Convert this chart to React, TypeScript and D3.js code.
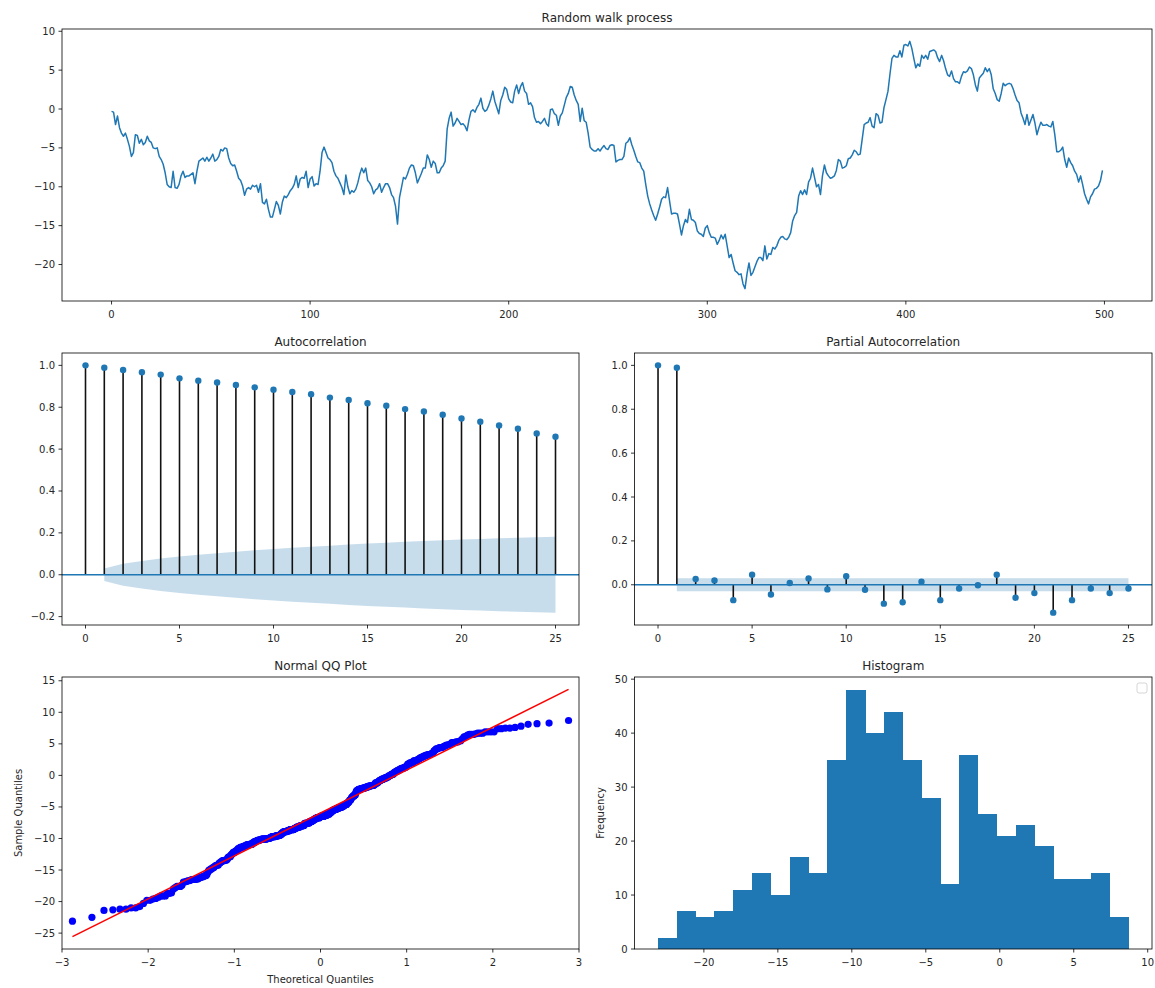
import React from "react";
import * as d3 from "d3";

// ---------------- DATA ----------------
const walk: number[] = [
  -0.3, -0.4, -2.0, -0.9, -2.4, -3.1, -3.5, -3.1, -3.9, -4.8,
  -6.1, -5.6, -3.3, -3.4, -4.4, -3.9, -4.6, -4.3, -3.5, -4.1,
  -4.3, -5.0, -5.1, -5.0, -6.1, -6.5, -7.1, -8.2, -9.7, -10.0,
  -10.1, -8.0, -10.1, -10.2, -9.7, -8.6, -8.0, -8.8, -8.6, -8.6,
  -8.4, -8.2, -9.6, -8.0, -6.7, -6.5, -6.3, -6.7, -6.2, -6.7,
  -6.3, -5.8, -6.7, -6.5, -6.1, -5.2, -5.4, -5.0, -5.1, -6.3,
  -7.0, -7.3, -7.2, -8.0, -8.9, -9.2, -9.9, -11.1, -10.3, -10.1,
  -10.3, -9.8, -10.0, -9.8, -10.7, -9.6, -12.0, -12.2, -11.6, -12.9,
  -13.9, -13.9, -12.9, -11.9, -12.4, -13.5, -12.0, -11.2, -11.4, -11.0,
  -10.5, -10.2, -9.7, -8.6, -10.1,
  -9.0, -8.8, -8.9, -8.0, -10.1, -9.0, -8.7, -9.9, -9.6, -9.7,
  -8.0, -5.6, -4.9, -5.6, -6.3, -6.5, -6.9, -8.0, -8.6, -8.9,
  -9.5, -10.1, -11.0, -8.5, -10.0, -10.9, -10.5, -10.7, -10.3, -9.5,
  -8.4, -7.6, -8.2, -7.6, -9.2, -9.5, -10.0, -10.9, -10.4, -10.2,
  -9.6, -10.7, -10.1, -9.6, -9.6, -10.1, -11.0, -11.4, -12.5, -14.8,
  -11.4, -10.1, -8.8, -9.0, -8.4, -7.6, -7.2, -7.3, -8.2, -9.5,
  -8.9, -8.3, -7.6, -7.6, -5.9, -6.5, -7.5, -6.7, -7.0, -8.2,
  -8.2, -7.6, -7.3, -6.7, -2.6, -1.2, -0.4, -2.2, -1.8, -1.2,
  -1.6, -2.0, -1.9, -2.2, -2.8, -1.4, -0.3, -0.1, -0.4, 0.2,
  0.6, 1.4, 0.1, -0.3, -0.1, 0.5, 1.3, 2.3, 1.0, 0.2,
  -0.6, 1.1,
  1.8, 2.8, 2.5, 1.3, 0.9, 0.8, 2.3, 3.1, 2.0, 2.9,
  3.4, 2.3, 2.0, 0.6, 0.8, 0.3, -1.1, -1.7, -1.6, -1.9,
  -1.6, -1.2, -1.9, -2.2, -0.1, 0.0, -0.6, -0.8, -2.1, -0.9,
  -0.5, 0.5, 1.5, 2.0, 2.9, 2.8, 1.8, 1.1, 0.6, -1.6,
  0.1, -1.5, -1.7, -3.1, -4.9, -5.2, -5.4, -5.4, -5.1, -5.4,
  -5.0, -4.7, -5.1, -5.2, -4.7, -4.6, -4.7, -6.8, -6.6, -6.5,
  -6.5, -6.1, -4.4, -4.2, -3.7, -4.6, -5.3, -6.1, -6.8, -6.9,
  -7.6, -8.0, -9.7, -11.2, -12.2, -13.0, -13.7, -14.3, -13.5, -12.6,
  -11.6, -11.3, -11.4, -10.1, -11.8, -13.5, -13.4, -13.4, -13.5,
  -14.8, -16.2, -15.0, -14.2, -14.6, -12.9, -14.2, -14.3, -14.6, -15.7,
  -16.0, -16.1, -16.4, -15.3, -15.0, -15.9,
  -16.5, -16.5, -16.6, -17.4, -16.9, -16.2, -16.7, -16.1, -17.6, -19.1,
  -18.7, -19.8, -20.8, -21.0, -21.3, -21.2, -22.5, -23.1, -21.2, -19.8,
  -21.4, -21.0, -20.3, -19.6, -19.1, -19.1, -19.5, -17.6, -19.3, -18.6,
  -18.7, -17.8, -18.0, -17.6, -16.9, -16.5, -16.4, -16.7, -16.8, -16.5,
  -15.9, -14.4, -13.7, -13.3, -11.2, -10.5, -11.0, -10.4, -11.0, -9.4,
  -8.9, -7.6, -8.8, -10.0, -9.7, -11.0, -8.6, -7.2, -8.2, -8.6,
  -8.9, -8.8, -8.6, -7.9, -6.5, -6.7, -7.6, -7.5, -7.3, -6.4,
  -6.3, -5.9, -5.3, -5.5, -5.9, -5.8, -3.9, -2.0, -1.8, -1.7,
  -1.1, -2.2, -2.4, -0.6, -0.8, -1.8, -1.7, 0.2, 1.2, 2.3,
  4.5, 6.5,
  6.9, 6.7, 6.7, 7.5, 6.7, 8.2, 8.3, 8.1, 8.7,
  7.8, 6.5, 5.3, 5.8, 5.5, 6.9, 6.5, 6.9, 6.4, 7.4,
  7.5, 7.6, 7.4, 6.6, 6.1, 6.9, 6.2, 5.2, 4.4, 4.2,
  4.9, 3.9, 3.5, 3.5, 3.3, 4.2, 4.8, 4.7, 4.9, 5.4,
  5.2, 4.4, 3.1, 2.3, 4.0, 4.3, 4.6, 5.3, 4.8, 5.2,
  4.4, 2.6, 2.0, 1.2, 1.0, 2.0, 3.3, 3.0, 3.2, 3.3,
  3.2, 2.6, 1.8, 1.1, 0.8, -0.5, -1.2, -2.0, -0.7, -2.1,
  -1.4, -0.7, -1.8, -3.3, -2.4, -1.7, -2.1, -2.1, -2.0, -2.2,
  -2.3, -1.6, -3.3, -5.5, -5.5, -5.3, -4.9, -6.5, -7.5, -6.3,
  -6.9, -7.3, -8.0, -8.4, -9.4, -8.6, -9.7, -10.9, -11.6, -12.2,
  -11.3, -10.9, -10.3, -10.2, -9.9, -9.2, -7.9,
];

const lags: number[] = [0, 1, 2, 3, 4, 5, 6, 7, 8, 9, 10, 11, 12, 13, 14, 15, 16, 17, 18, 19, 20, 21, 22, 23, 24, 25];

const acfValues: number[] = [
  1.0, 0.989, 0.978, 0.967, 0.956, 0.938, 0.927, 0.918, 0.906, 0.895,
  0.884, 0.873, 0.862, 0.846, 0.835, 0.819, 0.807, 0.791, 0.78, 0.764,
  0.746, 0.731, 0.713, 0.697, 0.675, 0.659,
];

// half-width of the ACF confidence band, lags 1..25
const acfBand: number[] = [
  0.030, 0.052, 0.066, 0.078, 0.087, 0.095, 0.103, 0.110, 0.117, 0.123,
  0.129, 0.134, 0.139, 0.144, 0.149, 0.153, 0.157, 0.161, 0.165, 0.168,
  0.171, 0.174, 0.177, 0.179, 0.181,
];

const pacfValues: number[] = [
  1.0, 0.989, 0.026, 0.02, -0.07, 0.046, -0.044, 0.008, 0.029, -0.021,
  0.039, -0.023, -0.086, -0.08, 0.014, -0.07, -0.017, -0.002, 0.046, -0.059,
  -0.038, -0.127, -0.07, -0.017, -0.038, -0.017,
];
const pacfBandHalf = 0.03;

const histCounts: number[] = [
  2, 7, 6, 7, 11, 14, 10, 17, 14, 35, 48, 40, 44, 35, 28, 12, 36, 25, 21, 23, 19, 13, 13, 14, 6,
];

const walkXTicks = [0, 100, 200, 300, 400, 500];
const walkYTicks = [-20, -15, -10, -5, 0, 5, 10];
const acfXTicks = [0, 5, 10, 15, 20, 25];
const acfYTicks = [-0.2, 0.0, 0.2, 0.4, 0.6, 0.8, 1.0];
const qqXTicks = [-3, -2, -1, 0, 1, 2, 3];
const qqYTicks = [-25, -20, -15, -10, -5, 0, 5, 10, 15];
const histXTicks = [-20, -15, -10, -5, 0, 5, 10];
const histYTicks = [0, 10, 20, 30, 40, 50];

// ---------------- helpers ----------------
const C0 = "#1f77b4";
const FONT = "DejaVu Sans, sans-serif";
const TXT = "#262626";

function pad(lo: number, hi: number, f = 0.05): [number, number] {
  const r = hi - lo;
  return [lo - r * f, hi + r * f];
}

// inverse standard normal CDF (Acklam)
function qnorm(p: number): number {
  const a = [-3.969683028665376e1, 2.209460984245205e2, -2.759285104469687e2, 1.38357751867269e2, -3.066479806614716e1, 2.506628277459239];
  const b = [-5.447609879822406e1, 1.615858368580409e2, -1.556989798598866e2, 6.680131188771972e1, -1.328068155288572e1];
  const c = [-7.784894002430293e-3, -3.223964580411365e-1, -2.400758277161838, -2.549732539343734, 4.374664141464968, 2.938163982698783];
  const d = [7.784695709041462e-3, 3.224671290700398e-1, 2.445134137142996, 3.754408661907416];
  const pl = 0.02425;
  if (p < pl) {
    const q = Math.sqrt(-2 * Math.log(p));
    return (((((c[0] * q + c[1]) * q + c[2]) * q + c[3]) * q + c[4]) * q + c[5]) / ((((d[0] * q + d[1]) * q + d[2]) * q + d[3]) * q + 1);
  }
  if (p <= 1 - pl) {
    const q = p - 0.5;
    const r = q * q;
    return ((((((a[0] * r + a[1]) * r + a[2]) * r + a[3]) * r + a[4]) * r + a[5]) * q) / (((((b[0] * r + b[1]) * r + b[2]) * r + b[3]) * r + b[4]) * r + 1);
  }
  const q = Math.sqrt(-2 * Math.log(1 - p));
  return -(((((c[0] * q + c[1]) * q + c[2]) * q + c[3]) * q + c[4]) * q + c[5]) / ((((d[0] * q + d[1]) * q + d[2]) * q + d[3]) * q + 1);
}

type Box = { l: number; r: number; t: number; b: number };

function Frame({ box, x, y, xt, yt, xf, yf, title }: any) {
  return (
    <g>
      <rect x={box.l} y={box.t} width={box.r - box.l} height={box.b - box.t} fill="none" stroke="#000" strokeWidth={0.8} />
      {xt.map((v: number) => (
        <g key={"x" + v}>
          <line x1={x(v)} x2={x(v)} y1={box.b} y2={box.b + 3.5} stroke="#000" strokeWidth={0.8} />
          <text x={x(v)} y={box.b + 17} textAnchor="middle" fontSize={10} fontFamily={FONT} fill={TXT}>
            {xf(v)}
          </text>
        </g>
      ))}
      {yt.map((v: number) => (
        <g key={"y" + v}>
          <line x1={box.l - 3.5} x2={box.l} y1={y(v)} y2={y(v)} stroke="#000" strokeWidth={0.8} />
          <text x={box.l - 7} y={y(v)} dy="0.35em" textAnchor="end" fontSize={10} fontFamily={FONT} fill={TXT}>
            {yf(v)}
          </text>
        </g>
      ))}
      <text x={(box.l + box.r) / 2} y={box.t - 7} textAnchor="middle" fontSize={12} fontFamily={FONT} fill={TXT}>
        {title}
      </text>
    </g>
  );
}

const fInt = d3.format("d");
const f1 = d3.format(".1f");

export default function App() {
  const topBox: Box = { l: 62, r: 1152, t: 29, b: 301 };
  const acfBox: Box = { l: 62, r: 579, t: 353, b: 625 };
  const pacfBox: Box = { l: 634.5, r: 1152, t: 353, b: 625 };
  const qqBox: Box = { l: 62, r: 579, t: 677, b: 949 };
  const histBox: Box = { l: 634.5, r: 1152, t: 677, b: 949 };

  // random walk
  const n = walk.length;
  const [wmin, wmax] = d3.extent(walk) as [number, number];
  const wx = d3.scaleLinear().domain(pad(0, n - 1)).range([topBox.l, topBox.r]);
  const wy = d3.scaleLinear().domain(pad(wmin, wmax)).range([topBox.b, topBox.t]);
  const walkPath = d3.line<number>().x((_, i) => wx(i)).y((d) => wy(d))(walk) || "";

  // ACF
  const acfLo = Math.min(d3.min(acfValues)!, -d3.max(acfBand)!);
  const ax = d3.scaleLinear().domain(pad(lags[0], lags[lags.length - 1])).range([acfBox.l, acfBox.r]);
  const ay = d3.scaleLinear().domain(pad(acfLo, d3.max(acfValues)!)).range([acfBox.b, acfBox.t]);
  const bandLags = lags.slice(1);
  const acfArea =
    d3.area<number>().x((d) => ax(d)).y0((_, i) => ay(-acfBand[i])).y1((_, i) => ay(acfBand[i]))(bandLags) || "";

  // PACF
  const pacfLo = Math.min(d3.min(pacfValues)!, -pacfBandHalf);
  const px = d3.scaleLinear().domain(pad(lags[0], lags[lags.length - 1])).range([pacfBox.l, pacfBox.r]);
  const py = d3.scaleLinear().domain(pad(pacfLo, d3.max(pacfValues)!)).range([pacfBox.b, pacfBox.t]);
  const pacfArea =
    d3.area<number>().x((d) => px(d)).y0(() => py(-pacfBandHalf)).y1(() => py(pacfBandHalf))(bandLags) || "";

  // QQ
  const sorted = walk.slice().sort((a, b) => a - b);
  const theo = sorted.map((_, i) => qnorm((i + 1) / (n + 1)));
  const mu = d3.mean(walk)!;
  const sd = Math.sqrt(d3.mean(walk, (v) => (v - mu) * (v - mu))!);
  const t0 = theo[0];
  const t1 = theo[n - 1];
  const l0 = mu + sd * t0;
  const l1 = mu + sd * t1;
  const qx = d3.scaleLinear().domain([qqXTicks[0], qqXTicks[qqXTicks.length - 1]]).range([qqBox.l, qqBox.r]);
  const qy = d3
    .scaleLinear()
    .domain(pad(Math.min(sorted[0], l0), Math.max(sorted[n - 1], l1)))
    .range([qqBox.b, qqBox.t]);

  // Histogram
  const binW = (wmax - wmin) / histCounts.length;
  const hx = d3.scaleLinear().domain(pad(wmin, wmax)).range([histBox.l, histBox.r]);
  const hy = d3.scaleLinear().domain([0, d3.max(histCounts)! * 1.05]).range([histBox.b, histBox.t]);

  return (
    <svg
      width={1155}
      height={988}
      style={{ position: "absolute", left: 0, top: 0, background: "#fff" }}
      fontFamily={FONT}
    >
      <rect width={1155} height={988} fill="#fff" />

      {/* Random walk */}
      <path d={walkPath} fill="none" stroke={C0} strokeWidth={1.5} strokeLinejoin="round" />
      <Frame box={topBox} x={wx} y={wy} xt={walkXTicks} yt={walkYTicks} xf={fInt} yf={fInt} title="Random walk process" />

      {/* ACF */}
      <path d={acfArea} fill={C0} fillOpacity={0.25} stroke="none" />
      {lags.map((l, i) => (
        <line key={"as" + l} x1={ax(l)} x2={ax(l)} y1={ay(0)} y2={ay(acfValues[i])} stroke="#111" strokeWidth={1.6} />
      ))}
      <line x1={acfBox.l} x2={acfBox.r} y1={ay(0)} y2={ay(0)} stroke={C0} strokeWidth={1.5} />
      {lags.map((l, i) => (
        <circle key={"am" + l} cx={ax(l)} cy={ay(acfValues[i])} r={3.2} fill={C0} />
      ))}
      <Frame box={acfBox} x={ax} y={ay} xt={acfXTicks} yt={acfYTicks} xf={fInt} yf={f1} title="Autocorrelation" />

      {/* PACF */}
      <path d={pacfArea} fill={C0} fillOpacity={0.25} stroke="none" />
      {lags.map((l, i) => (
        <line key={"ps" + l} x1={px(l)} x2={px(l)} y1={py(0)} y2={py(pacfValues[i])} stroke="#111" strokeWidth={1.6} />
      ))}
      <line x1={pacfBox.l} x2={pacfBox.r} y1={py(0)} y2={py(0)} stroke={C0} strokeWidth={1.5} />
      {lags.map((l, i) => (
        <circle key={"pm" + l} cx={px(l)} cy={py(pacfValues[i])} r={3.2} fill={C0} />
      ))}
      <Frame
        box={pacfBox}
        x={px}
        y={py}
        xt={acfXTicks}
        yt={acfYTicks.filter((v) => v >= py.domain()[0])}
        xf={fInt}
        yf={f1}
        title="Partial Autocorrelation"
      />

      {/* QQ */}
      {sorted.map((v, i) => (
        <circle key={"q" + i} cx={qx(theo[i])} cy={qy(v)} r={3.6} fill="#0000ff" />
      ))}
      <line x1={qx(t0)} y1={qy(l0)} x2={qx(t1)} y2={qy(l1)} stroke="#ff0000" strokeWidth={1.5} />
      <Frame box={qqBox} x={qx} y={qy} xt={qqXTicks} yt={qqYTicks} xf={fInt} yf={fInt} title="Normal QQ Plot" />
      <text x={(qqBox.l + qqBox.r) / 2} y={983} textAnchor="middle" fontSize={10} fill={TXT}>
        Theoretical Quantiles
      </text>
      <text
        transform={`translate(18,${(qqBox.t + qqBox.b) / 2}) rotate(-90)`}
        textAnchor="middle"
        dy="0.35em"
        fontSize={10}
        fill={TXT}
      >
        Sample Quantiles
      </text>

      {/* Histogram */}
      <g shapeRendering="crispEdges">
        {histCounts.map((c, i) => {
          const e0 = wmin + i * binW;
          const e1 = wmin + (i + 1) * binW;
          return (
            <rect
              key={"h" + i}
              x={hx(e0)}
              width={hx(e1) - hx(e0) + 0.5}
              y={hy(c)}
              height={hy(0) - hy(c)}
              fill={C0}
            />
          );
        })}
      </g>
      <rect x={histBox.r - 15} y={histBox.t + 6} width={10} height={10} rx={2} fill="#fff" stroke="#cccccc" strokeWidth={0.8} />
      <Frame box={histBox} x={hx} y={hy} xt={histXTicks} yt={histYTicks} xf={fInt} yf={fInt} title="Histogram" />
      <text
        transform={`translate(600,${(histBox.t + histBox.b) / 2}) rotate(-90)`}
        textAnchor="middle"
        dy="0.35em"
        fontSize={10}
        fill={TXT}
      >
        Frequency
      </text>
    </svg>
  );
}
